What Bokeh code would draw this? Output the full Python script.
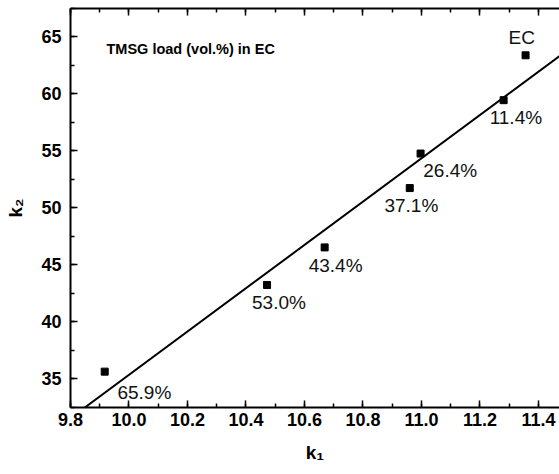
from bokeh.plotting import figure
from bokeh.models import (Range1d, LinearAxis, Label, Slope, SingleIntervalTicker,
                          PrintfTickFormatter, CustomJSTickFormatter)
from bokeh.embed import file_html
from bokeh.resources import INLINE
from bokeh.core.properties import value

# ---- data ----
k1 = [9.917, 10.472, 10.669, 10.960, 10.997, 11.281, 11.356]
k2 = [35.61, 43.22, 46.52, 51.73, 54.76, 59.45, 63.39]
point_labels = ["65.9%", "53.0%", "43.4%", "37.1%", "26.4%", "11.4%", "EC"]
fit_slope = 19.01
fit_intercept = -154.77
x_title = "k\u2081"
y_title = "k\u2082"
annotation_text = "TMSG load (vol.%) in EC"

# ---- styles / positions ----
label_dx = [12.7, -15, -16, -25.3, 2.7, -14, -17]
label_dy = [20.7, 17.2, 18.3, 17.7, 17.3, 17.2, -18.3]
FONT = "Liberation Sans"
W, H = 559, 470
BL, BT, BB = 70, 8, 63
FB = H - BB  # frame bottom in canvas pixels

p = figure(width=W, height=H, output_backend="svg", toolbar_location=None,
           x_range=Range1d(9.8, 11.472), y_range=Range1d(32.46, 67.5),
           min_border_left=BL, min_border_right=0, min_border_top=BT, min_border_bottom=BB,
           x_axis_location="below", y_axis_location="left")
p.outline_line_color = None
p.grid.visible = False
p.background_fill_color = "white"
p.border_fill_color = "white"

for ax in p.xaxis:
    ax.ticker = SingleIntervalTicker(interval=0.2, num_minor_ticks=2)
    ax.formatter = PrintfTickFormatter(format="%.1f")
    ax.axis_label = x_title
    ax.axis_label_standoff = 13
for ax in p.yaxis:
    ax.ticker = SingleIntervalTicker(interval=5, num_minor_ticks=2)
    ax.formatter = PrintfTickFormatter(format="%d")
    ax.axis_label = y_title
    ax.axis_label_standoff = 12

top = LinearAxis(ticker=SingleIntervalTicker(interval=0.2, num_minor_ticks=2),
                 formatter=CustomJSTickFormatter(code="return '';"), major_label_standoff=0)
p.add_layout(top, "above")

for ax in list(p.xaxis) + list(p.yaxis):
    ax.axis_line_color = "black"
    ax.axis_line_width = 2
    ax.major_tick_line_color = "black"
    ax.minor_tick_line_color = "black"
    ax.major_tick_line_width = 1.5
    ax.minor_tick_line_width = 1.5
    ax.major_tick_in = 7
    ax.major_tick_out = 0
    ax.minor_tick_in = 4
    ax.minor_tick_out = 0
    ax.major_label_text_font = FONT
    ax.major_label_text_font_style = "bold"
    ax.major_label_text_font_size = "18px"
    ax.major_label_text_color = "black"
    ax.axis_label_text_font = FONT
    ax.axis_label_text_font_style = "bold"
    ax.axis_label_text_font_size = "19px"
    ax.axis_label_text_color = "black"

p.xaxis[0].major_label_standoff = 12
p.yaxis[0].major_label_standoff = 9
top.major_label_standoff = 0

p.add_layout(Slope(gradient=fit_slope, y_intercept=fit_intercept, line_color="black", line_width=2))
p.scatter(k1, k2, marker="square", size=7, color="black")
p.text(x=k1, y=k2, text=point_labels, x_offset=label_dx, y_offset=label_dy,
       text_font=value(FONT), text_font_size="19px", text_color="#111111",
       text_align="left", text_baseline="middle")

p.add_layout(Label(x=106 - BL, y=FB - 48, x_units="screen", y_units="screen", text=annotation_text,
                   text_font=FONT, text_font_style="bold", text_font_size="14.5px",
                   text_color="black", text_baseline="middle", text_align="left"))

open("out.html", "w").write(file_html(p, INLINE))
